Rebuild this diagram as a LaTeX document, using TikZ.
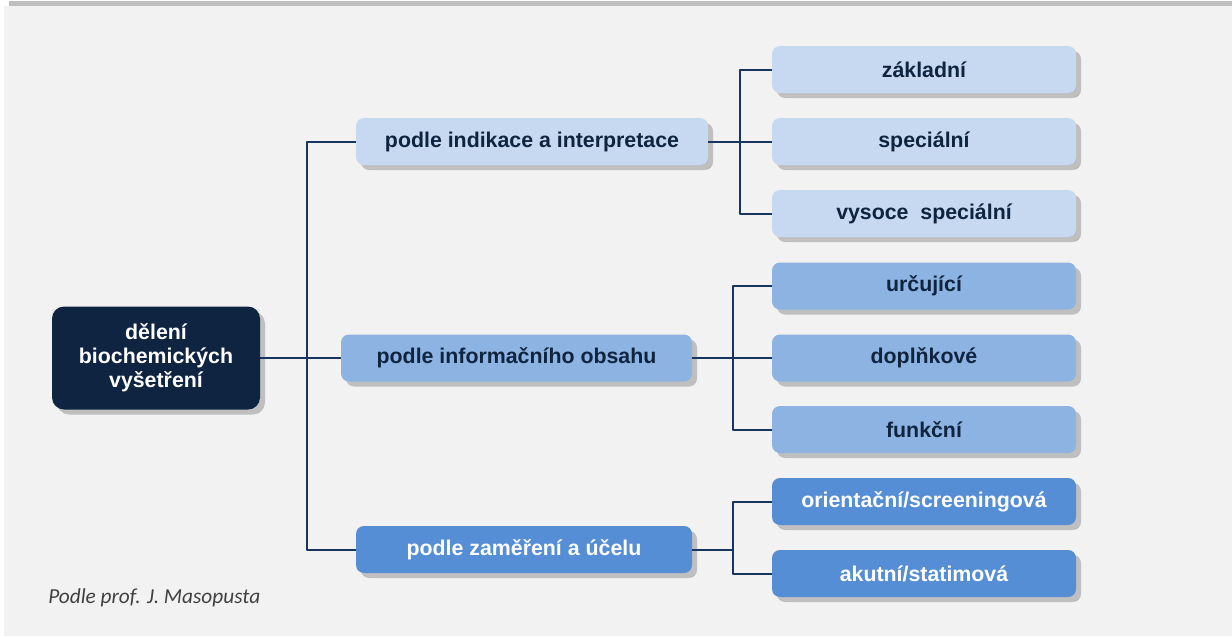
\documentclass[tikz,border=0pt]{standalone}
\usepackage{fontspec}
\setmainfont{Liberation Sans}
\newfontfamily\notefont{Carlito}
\usetikzlibrary{shadows}
\definecolor{bg}{HTML}{F2F2F2}
\definecolor{topbar}{HTML}{BFBFBF}
\definecolor{shade}{HTML}{BFBFBF}
\definecolor{rootfill}{HTML}{0F2441}
\definecolor{lightfill}{HTML}{C6D9F1}
\definecolor{midfill}{HTML}{8DB3E2}
\definecolor{darkfill}{HTML}{558ED5}
\definecolor{ink}{HTML}{0F243E}
\definecolor{linkcol}{HTML}{17365D}
\definecolor{note}{HTML}{404040}

\begin{document}
\begin{tikzpicture}[x=0.75pt,y=-0.75pt,line join=round,
  box/.style={rounded corners=6pt,inner sep=0pt,align=center,
    font=\fontsize{16}{18}\selectfont\bfseries,
    drop shadow={shadow xshift=3.75pt,shadow yshift=-3.75pt,fill=shade,opacity=1}},
  leaf/.style={box,minimum width=228pt,minimum height=35.25pt},
  grpA/.style={fill=lightfill,text=ink},
  grpB/.style={fill=midfill,text=ink},
  grpC/.style={fill=darkfill,text=white},
  link/.style={draw=linkcol,line width=1.5pt}]
  \useasboundingbox (0,0) rectangle (1232,636);
  \fill[bg] (4,6) rectangle (1232,636);
  \fill[topbar] (9,1) rectangle (1232,6);

  % ---- root ----
  \node[box,rounded corners=9pt,fill=rootfill,text=white,minimum width=156pt,minimum height=77.25pt]
    (root) at (156,358) {dělení\\biochemických\\vyšetření};

  % ---- second level ----
  \node[box,grpA,minimum width=264pt,minimum height=35.25pt] (indik) at (532,141.5) {podle indikace a interpretace};
  \node[box,grpB,minimum width=263.25pt,minimum height=35.25pt] (inform) at (516.5,358) {podle informačního obsahu};
  \node[box,grpC,minimum width=252pt,minimum height=35.25pt] (zamer) at (524,549.5) {podle zaměření a účelu};

  % ---- leaves ----
  \node[leaf,grpA] (zakl) at (924,69.5) {základní};
  \node[leaf,grpA] (spec) at (924,141.5) {speciální};
  \node[leaf,grpA] (vysoce) at (924,213.5) {vysoce\ \ speciální};
  \node[leaf,grpB] (urc) at (924,286) {určující};
  \node[leaf,grpB] (dopl) at (924,358) {doplňkové};
  \node[leaf,grpB] (funk) at (924,429.5) {funkční};
  \node[leaf,grpC] (orient) at (924,501.5) {orientační/screeningová};
  \node[leaf,grpC] (akut) at (924,573.5) {akutní/statimová};

  % ---- connectors ----
  \coordinate (t0) at (307,358);
  \coordinate (t1) at (740,141.5);
  \coordinate (t2) at (733,358);
  \coordinate (t3) at (733,549.5);
  \draw[link] (root.east) -- (t0);
  \draw[link] (t0) |- (indik.west);
  \draw[link] (t0) -- (inform.west);
  \draw[link] (t0) |- (zamer.west);
  \draw[link] (indik.east) -- (t1);
  \draw[link] (t1) |- (zakl.west);
  \draw[link] (t1) -- (spec.west);
  \draw[link] (t1) |- (vysoce.west);
  \draw[link] (inform.east) -- (t2);
  \draw[link] (t2) |- (urc.west);
  \draw[link] (t2) -- (dopl.west);
  \draw[link] (t2) |- (funk.west);
  \draw[link] (zamer.east) -- (t3);
  \draw[link] (t3) |- (orient.west);
  \draw[link] (t3) |- (akut.west);

  % source note
  \node[anchor=base west,font=\notefont\itshape\fontsize{16}{18}\selectfont,text=note,inner sep=0pt]
    (credit) at (48,603) {Podle prof. J. Masopusta};
\end{tikzpicture}
\end{document}
